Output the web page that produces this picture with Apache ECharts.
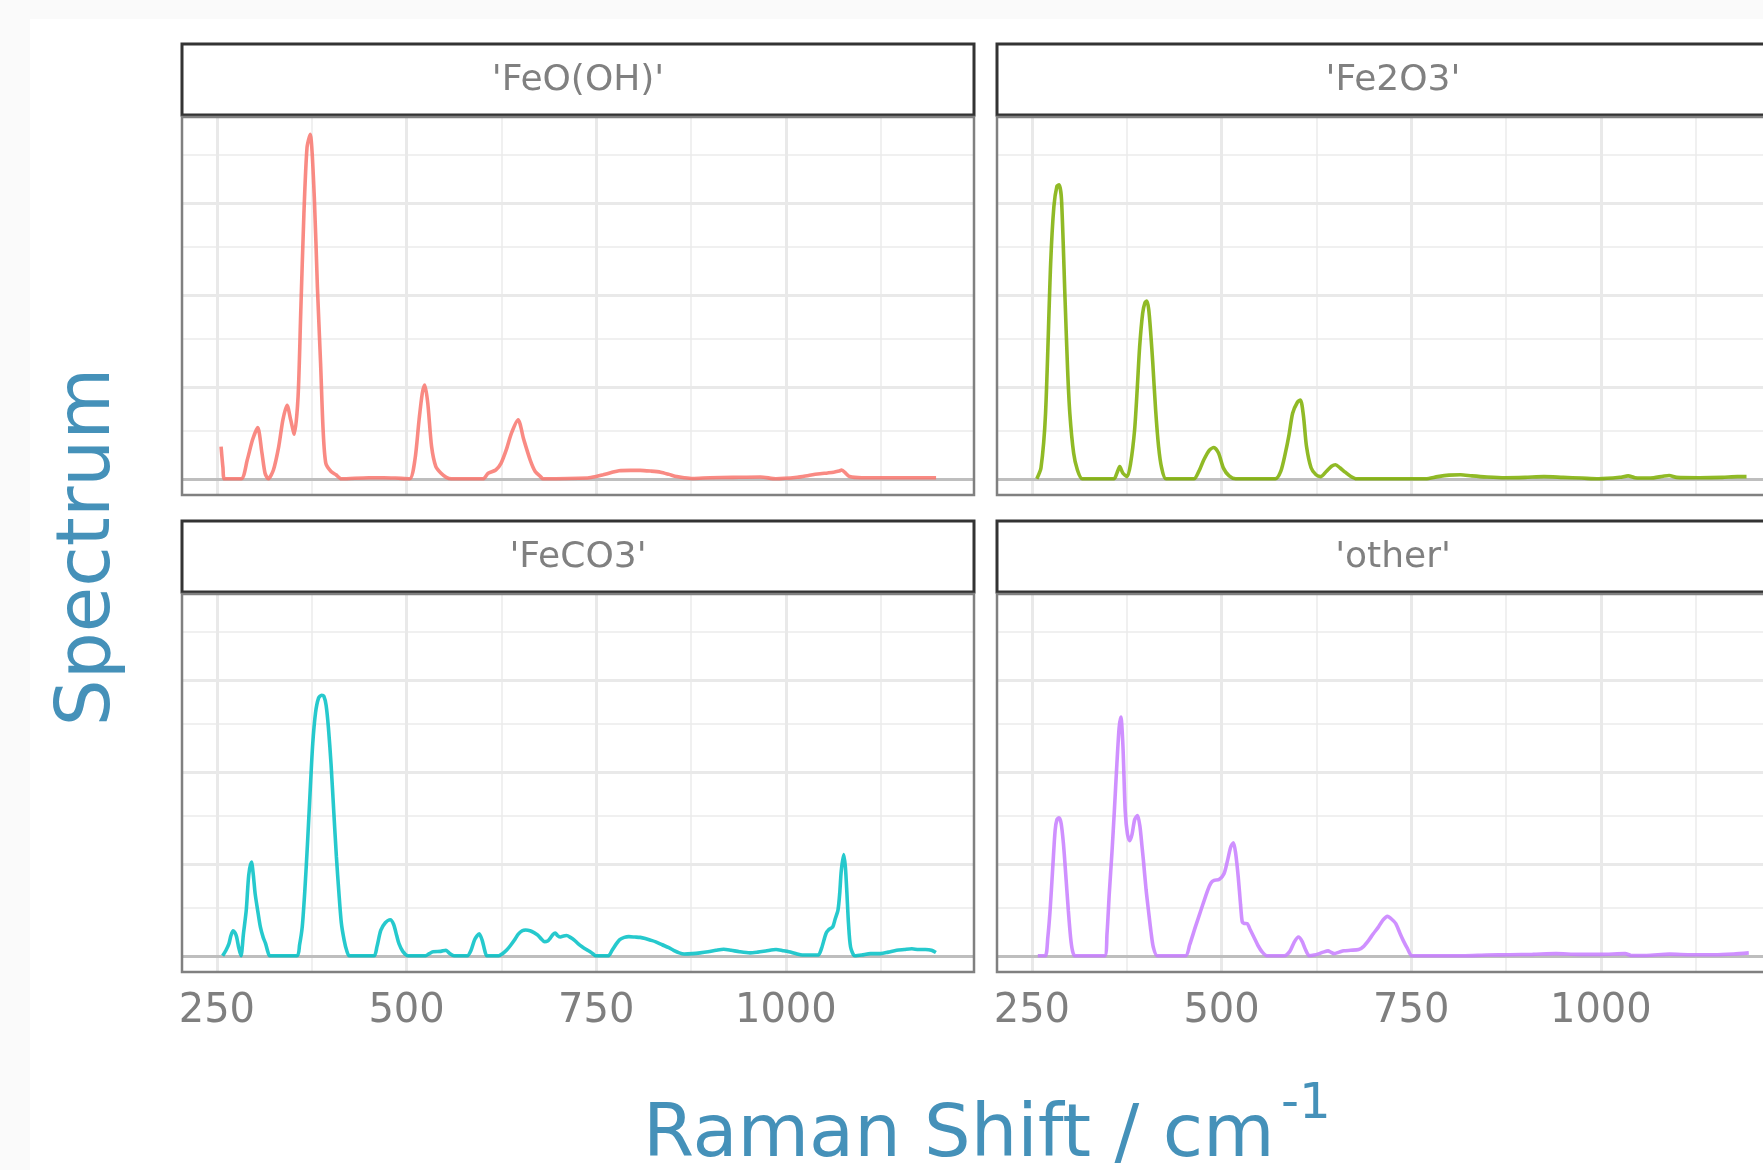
<!DOCTYPE html>
<html>
<head>
<meta charset="utf-8">
<script src="https://cdn.jsdelivr.net/npm/echarts@6/dist/echarts.min.js"></script>
<style>
html,body{margin:0;padding:0;background:#fafafa;}
#chart{width:1763px;height:1170px;}
</style>
</head>
<body>
<div id="chart"></div>
<script>
// ---- data (Raman shift cm^-1, normalised intensity) ----
const panelNames = ["'FeO(OH)'", "'Fe2O3'", "'FeCO3'", "'other'"];
const panelColors = ['#F8766D', '#7CAE00', '#00BFC4', '#C77CFF'];
const xTickLabels = [250, 500, 750, 1000];
const xMinorBreaks = [375, 625, 875, 1125];
const yMajorBreaks = [0.25, 0.5, 0.75];
const yMinorBreaks = [0.125, 0.375, 0.625, 0.875];

const feooh = [[255.5,0.0875],[258,0.03],[260,0],[282,0],[290,0.051],[297,0.106],[303.8,0.139],[309.4,0.07],[313.5,0.015],[317.7,0],[324.5,0.024],[331.5,0.0875],[337,0.16],[342.5,0.2],[347.3,0.16],[352,0.121],[357,0.223],[360.5,0.45],[364.7,0.72],[368.8,0.9],[373,0.936],[378.4,0.765],[382.5,0.52],[386.7,0.313],[390,0.133],[393.6,0.042],[400.5,0.02],[407,0.011],[414,0],[450,0.003],[470,0.003],[485,0.002],[504,0],[511,0.051],[516.5,0.16],[520.7,0.232],[524,0.255],[528,0.205],[533,0.0875],[538.6,0.033],[545.5,0.015],[552.4,0.004],[559,0],[600.7,0],[607.6,0.015],[617.6,0.024],[624.5,0.042],[631.4,0.0785],[638.3,0.124],[647,0.16],[654.6,0.106],[663,0.051],[669.6,0.02],[676.6,0.006],[680,0],[738.7,0.002],[750,0.006],[759,0.011],[770,0.017],[780,0.022],[795,0.023],[808,0.023],[822,0.021],[835,0.018],[846,0.012],[856,0.006],[866,0.003],[877,0.001],[900,0.003],[930,0.004],[966.5,0.005],[987,0],[1015,0.004],[1030,0.009],[1042,0.013],[1055,0.016],[1063,0.018],[1070,0.021],[1073.5,0.024],[1079,0.015],[1084,0.006],[1100,0.003],[1150,0.003],[1198,0.003]];

const fe2o3 = [[256.5,0],[262,0.03],[268,0.178],[274.7,0.584],[279,0.74],[283,0.795],[285.8,0.799],[289,0.76],[293.6,0.494],[297,0.3],[300,0.178],[305,0.07],[310,0.024],[316.4,0],[358,0],[362,0.015],[365.8,0.033],[370,0.015],[375.6,0.006],[380,0.04],[385.4,0.133],[389,0.25],[392,0.358],[396,0.45],[399,0.478],[401.6,0.483],[404,0.46],[406.5,0.4],[409.4,0.313],[413,0.19],[417,0.0875],[421,0.03],[426.8,0],[463.5,0],[470,0.02],[476.5,0.051],[484,0.078],[490,0.085],[496,0.07],[502.5,0.029],[510,0.008],[518.8,0],[570.9,0],[578,0.02],[584,0.069],[589,0.12],[593.7,0.178],[600,0.208],[604,0.214],[608,0.17],[612,0.0875],[618,0.03],[624.5,0.011],[631,0.006],[638,0.02],[645,0.034],[650.3,0.038],[656,0.03],[663,0.018],[670,0.007],[678,0],[769,0],[785,0.006],[800,0.01],[815,0.011],[830,0.008],[850,0.005],[873.5,0.003],[900,0.004],[925,0.006],[950,0.004],[975,0.002],[997,0],[1025,0.004],[1036,0.008],[1045,0.003],[1065,0.002],[1082,0.007],[1090,0.009],[1100,0.004],[1130,0.003],[1160,0.004],[1180,0.006],[1192,0.006]];

const feco3 = [[257.6,0],[262,0.015],[265.9,0.033],[268.5,0.055],[271.4,0.068],[274,0.062],[276,0.051],[279,0.02],[281.8,0],[285,0.06],[288.7,0.124],[292,0.22],[295.6,0.255],[298,0.22],[300.4,0.169],[304,0.12],[307.3,0.0785],[311,0.05],[314.2,0.033],[317,0.012],[319.7,0],[355.6,0],[359,0.03],[362.5,0.0785],[366,0.18],[369.4,0.304],[373,0.45],[376.3,0.575],[380,0.66],[384,0.7],[388,0.708],[391,0.705],[394,0.68],[397,0.62],[400.5,0.52],[404,0.394],[407.5,0.27],[410.9,0.169],[414,0.09],[417.8,0.042],[421,0.015],[424.7,0],[457,0],[461,0.025],[466,0.069],[472,0.09],[478.5,0.098],[483,0.085],[487,0.055],[490,0.033],[495,0.012],[502,0],[525,0],[530,0.006],[535,0.011],[545,0.012],[552,0.015],[557,0.006],[562.6,0],[580,0],[585,0.015],[590,0.045],[595.8,0.06],[600,0.04],[603,0.015],[606,0],[621.4,0],[626,0.005],[631.7,0.015],[637,0.028],[642,0.042],[647,0.058],[652.5,0.068],[657,0.07],[662.8,0.068],[668,0.063],[673,0.056],[678,0.045],[682,0.038],[686,0.04],[689,0.047],[693,0.058],[696,0.062],[699,0.055],[702.9,0.051],[707,0.054],[711,0.055],[716,0.05],[721.5,0.042],[726,0.033],[731.8,0.024],[737,0.017],[742,0.011],[746,0.005],[749,0],[766,0],[771,0.015],[776.7,0.033],[781,0.044],[787,0.05],[793,0.052],[800.9,0.051],[808,0.05],[814.7,0.047],[821,0.043],[828.5,0.038],[837,0.03],[845.7,0.022],[852,0.015],[859.5,0.008],[866,0.005],[876.8,0.006],[887,0.008],[897.5,0.011],[908,0.015],[918,0.018],[928,0.015],[939,0.011],[952.7,0.008],[963,0.01],[973.4,0.013],[987,0.017],[996,0.014],[1004,0.011],[1013,0.006],[1021.8,0.002],[1042.5,0.002],[1047,0.02],[1052.8,0.06],[1057,0.072],[1061.8,0.0785],[1065,0.1],[1068.7,0.124],[1071,0.17],[1073,0.23],[1076.3,0.275],[1078.5,0.24],[1080.5,0.169],[1082.5,0.09],[1085.3,0.024],[1090.8,0],[1100,0.002],[1111.5,0.006],[1125,0.006],[1135,0.01],[1146,0.015],[1156,0.017],[1166,0.019],[1175,0.017],[1184,0.017],[1192,0.015],[1197.8,0.009]];

const other = [[257.8,0],[267.6,0],[271,0.05],[274,0.124],[277.5,0.24],[280.6,0.34],[283,0.37],[285.8,0.375],[288.5,0.36],[291.6,0.304],[295,0.21],[298,0.124],[301,0.05],[303.4,0.015],[306.6,0],[345.7,0],[349,0.06],[352,0.169],[355.5,0.28],[358.7,0.394],[362,0.52],[365,0.62],[367.3,0.649],[370,0.57],[373,0.394],[376,0.33],[379,0.313],[382,0.33],[385.5,0.37],[389.3,0.381],[392.5,0.35],[395,0.3],[397,0.259],[400.5,0.18],[403.6,0.124],[407,0.065],[410,0.024],[415.3,0],[452.4,0],[458,0.03],[465.5,0.0785],[473,0.125],[481.7,0.178],[486,0.198],[490.2,0.205],[496.7,0.207],[503.2,0.223],[508,0.26],[512,0.295],[515.6,0.307],[518.5,0.28],[522,0.214],[525,0.14],[527.3,0.092],[530,0.088],[533.7,0.0875],[538,0.07],[543.5,0.047],[548,0.028],[553.3,0.011],[559.8,0],[582.6,0],[590,0.012],[596,0.038],[601.4,0.051],[606,0.04],[610,0.02],[615.7,0],[622,0.002],[628.7,0.006],[634,0.01],[640.4,0.0135],[644,0.01],[648.3,0.006],[655,0.01],[661.3,0.0135],[670,0.015],[680.8,0.017],[687,0.025],[693.9,0.042],[700,0.06],[706.9,0.0785],[712,0.095],[718.6,0.107],[724,0.1],[729.7,0.0875],[735,0.062],[739.4,0.042],[745,0.02],[751.2,0],[817.5,0],[850,0.002],[880,0.003],[910,0.004],[941,0.006],[970,0.004],[1000,0.004],[1032,0.006],[1040,0.001],[1060,0.001],[1090.5,0.0045],[1120,0.003],[1150,0.003],[1175,0.005],[1195,0.008]];

const spectra = [feooh, fe2o3, feco3, other];

// ---- layout ----
const xMin = 204, pxPerUnit = 792 / 1044;
const panelW = 792, panelH = 378, stripH = 71;
const panelLeft = [182, 997, 182, 997];
const panelTop = [117, 117, 594, 594];
const stripTop = [44, 44, 521, 521];
const font = "'DejaVu Sans', Verdana, sans-serif";
const canvasW = 1763;

const chart = echarts.init(document.getElementById('chart'), null, {renderer: 'canvas'});

function gridMarkLines() {
  const data = [];
  xMinorBreaks.forEach(v => data.push({xAxis: v, lineStyle: {color: '#ebebeb', width: 1.5, type: 'solid'}}));
  yMinorBreaks.forEach(v => data.push({yAxis: v, lineStyle: {color: '#ebebeb', width: 1.5, type: 'solid'}}));
  xTickLabels.forEach(v => data.push({xAxis: v, lineStyle: {color: '#e9e9e9', width: 3, type: 'solid'}}));
  yMajorBreaks.forEach(v => data.push({yAxis: v, lineStyle: {color: '#e9e9e9', width: 3, type: 'solid'}}));
  data.push({yAxis: 0, lineStyle: {color: '#bebebe', width: 3, type: 'solid'}});
  return data;
}

const grids = [], xAxes = [], yAxes = [], series = [], graphics = [];
graphics.push({type: 'rect', shape: {x: 30, y: 19, width: 1733, height: 1151}, style: {fill: '#ffffff'}, z: -10, silent: true});

for (let i = 0; i < 4; i++) {
  // the right-hand panels run past the canvas edge: keep the grid inside and shorten the axis accordingly
  const w = Math.min(panelW, canvasW - panelLeft[i]);
  const xMax = xMin + w / pxPerUnit;
  grids.push({left: panelLeft[i], top: panelTop[i], width: w, height: panelH, show: true, backgroundColor: '#ffffff', borderWidth: 0});
  const bottomRow = i >= 2;
  xAxes.push({
    type: 'value', gridIndex: i, min: xMin, max: xMax,
    axisLine: {show: false}, axisTick: {show: false}, splitLine: {show: false},
    axisLabel: {show: bottomRow, customValues: xTickLabels, formatter: v => String(v), fontFamily: font, fontSize: 40, color: '#7f7f7f', margin: 20}
  });
  yAxes.push({
    type: 'value', gridIndex: i, min: -0.044, max: 0.983,
    axisLine: {show: false}, axisTick: {show: false}, splitLine: {show: false}, axisLabel: {show: false}
  });
  series.push({
    type: 'line', xAxisIndex: i, yAxisIndex: i, data: spectra[i],
    showSymbol: false, smooth: 0.25, z: 3,
    lineStyle: {color: panelColors[i], width: 3.6, opacity: 0.85},
    itemStyle: {color: panelColors[i]},
    emphasis: {disabled: true}, silent: true,
    markLine: {silent: true, z: 1, symbol: ['none', 'none'], label: {show: false}, emphasis: {disabled: true}, animation: false, data: gridMarkLines()}
  });
  // strip
  graphics.push({type: 'rect', shape: {x: panelLeft[i], y: stripTop[i], width: panelW, height: stripH},
    style: {fill: '#ffffff', stroke: '#333333', lineWidth: 3}, z: 10, silent: true});
  graphics.push({type: 'text', x: panelLeft[i] + panelW / 2, y: stripTop[i] + stripH / 2 + 1,
    style: {text: panelNames[i], font: '36px ' + font, fill: '#808080', align: 'center', verticalAlign: 'middle'}, z: 11, silent: true});
  // panel border
  graphics.push({type: 'rect', shape: {x: panelLeft[i], y: panelTop[i], width: panelW, height: panelH},
    style: {fill: 'none', stroke: '#808080', lineWidth: 2.5}, z: 10, silent: true});
}

// axis titles
graphics.push({type: 'text', x: 643, y: 1137, style: {text: 'Raman Shift / cm', font: '73.5px ' + font, fill: '#4591b9', align: 'left', verticalAlign: 'middle'}, z: 11, silent: true});
graphics.push({type: 'text', x: 1281, y: 1105, style: {text: '-1', font: '50px ' + font, fill: '#4591b9', align: 'left', verticalAlign: 'middle'}, z: 11, silent: true});
graphics.push({type: 'text', x: 90, y: 547, rotation: Math.PI / 2, style: {text: 'Spectrum', font: '74px ' + font, fill: '#4591b9', align: 'center', verticalAlign: 'middle'}, z: 11, silent: true});

chart.setOption({
  animation: false,
  backgroundColor: '#fafafa',
  grid: grids, xAxis: xAxes, yAxis: yAxes, series: series,
  graphic: graphics
});
</script>
</body>
</html>
